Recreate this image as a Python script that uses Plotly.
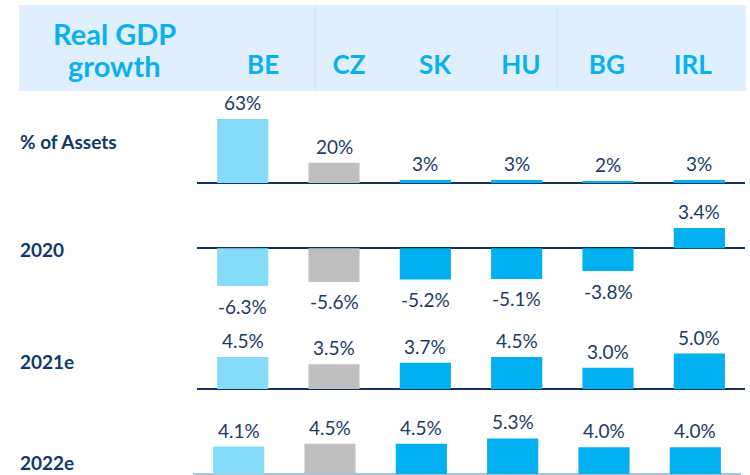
import plotly.graph_objects as go

# ---- data ----
countries = ["BE", "CZ", "SK", "HU", "BG", "IRL"]
assets_pct = [63, 20, 3, 3, 2, 3]
gdp_2020 = [-6.3, -5.6, -5.2, -5.1, -3.8, 3.4]
gdp_2021e = [4.5, 3.5, 3.7, 4.5, 3.0, 5.0]
gdp_2022e = [4.1, 4.5, 4.5, 5.3, 4.0, 4.0]
row_labels = ["% of Assets", "2020", "2021e", "2022e"]
header_title_lines = ["Real GDP", "growth"]

# ---- styles ----
W, H = 750, 475
FONT = "Lato"
C_BE = "#84dcf8"
C_CZ = "#bfbfbf"
C_OTHER = "#00b0f0"
bar_colors = [C_BE, C_CZ] + [C_OTHER] * 4
NAVY = "#1c3a66"
LABEL_NAVY = "#0f3a68"
HEAD_BLUE = "#0ab0ef"
HEAD_BG = "#dfeffd"


def py(px):
    return 1 - px / H


def px_x(px):
    return px / W


rows = [
    # values, fmt, y-domain px (top,bottom), y-range, x-axis, row-label y px
    (assets_pct, "{:.0f}%", (95, 186), [-2.95, 86.6], "x", 141),
    (gdp_2020, "{:.1f}%", (215, 295), [-7.78, 5.55], "x", 249),
    (gdp_2021e, "{:.1f}%", (330, 395), [-0.845, 8.31], "x", 361),
    (gdp_2022e, "{:.1f}%", (420, 475), [-0.149, 8.06], "x4", 462),
]

fig = go.Figure()
annotations = []
layout_axes = {}

for i, (vals, fmt, (top, bot), yr, xa, lab_y) in enumerate(rows):
    yname = "y" if i == 0 else f"y{i + 1}"
    fig.add_trace(go.Bar(
        x=countries, y=vals, xaxis=xa, yaxis=yname,
        marker=dict(color=bar_colors, line=dict(width=0)),
        width=0.56, hoverinfo="skip", showlegend=False,
    ))
    ykey = "yaxis" if i == 0 else f"yaxis{i + 1}"
    last = i == 3
    layout_axes[ykey] = dict(
        domain=[py(bot), py(top)], range=yr, anchor=xa,
        showgrid=False, showticklabels=False, ticks="",
        zeroline=True, zerolinewidth=1.5 if last else 2.2,
        zerolinecolor="#a9c4d9" if last else "#13335c",
        layer="above traces", fixedrange=True,
    )
    for c, v in zip(countries, vals):
        annotations.append(dict(
            x=c, y=v, xref=xa, yref=yname, text=fmt.format(v),
            showarrow=False, yanchor="middle",
            yshift=16.5 if v >= 0 else -20,
            font=dict(family=FONT, size=19, color=NAVY),
        ))
    annotations.append(dict(
        x=px_x(18), y=py(lab_y), xref="paper", yref="paper",
        xanchor="left", yanchor="middle", showarrow=False,
        text=f"<b>{row_labels[i]}</b>",
        font=dict(family=FONT, size=19, color=LABEL_NAVY),
    ))

# header country labels (own axis)
fig.add_trace(go.Scatter(
    x=countries, y=[0] * len(countries), xaxis="x5", yaxis="y5",
    mode="text", text=[f"<b>{c}</b>" for c in countries],
    textposition="middle center",
    textfont=dict(family=FONT, size=26, color=HEAD_BLUE),
    hoverinfo="skip", showlegend=False,
))
layout_axes["yaxis5"] = dict(domain=[py(93), py(41)], range=[-1, 1], anchor="x5",
                             visible=False, fixedrange=True)

for line, ly in zip(header_title_lines, [33, 66]):
    annotations.append(dict(
        x=px_x(114), y=py(ly), xref="paper", yref="paper",
        xanchor="center", yanchor="middle", showarrow=False,
        text=f"<b>{line}</b>",
        font=dict(family=FONT, size=29, color=HEAD_BLUE),
    ))

xcommon = dict(showgrid=False, showticklabels=False, ticks="", zeroline=False,
               showline=False, fixedrange=True, type="category", range=[-0.5, 5.5])

shapes = [
    dict(type="rect", xref="paper", yref="paper", x0=px_x(19), x1=px_x(746),
         y0=py(91), y1=py(5), fillcolor=HEAD_BG, line=dict(width=0), layer="below"),
    dict(type="line", xref="paper", yref="paper", x0=px_x(315.3), x1=px_x(315.3),
         y0=py(91), y1=py(5), line=dict(color="#cfe2f6", width=1), layer="below"),
    dict(type="line", xref="paper", yref="paper", x0=px_x(557), x1=px_x(557),
         y0=py(91), y1=py(5), line=dict(color="#cfe2f6", width=1), layer="below"),
]

fig.update_layout(
    width=W, height=H,
    margin=dict(l=0, r=0, t=0, b=0),
    paper_bgcolor="white", plot_bgcolor="rgba(0,0,0,0)",
    xaxis=dict(domain=[px_x(197), px_x(745)], anchor="y", **xcommon),
    xaxis4=dict(domain=[px_x(193), px_x(741)], anchor="y4", **xcommon),
    xaxis5=dict(domain=[px_x(220.2), px_x(735.7)], anchor="y5", **xcommon),
    annotations=annotations,
    shapes=shapes,
    bargap=0.4,
    font=dict(family=FONT),
    **layout_axes,
)

fig.write_html(
    "out.html",
    config={"displayModeBar": False},
    post_script="document.body.style.margin='0px';document.body.style.overflow='hidden';",
)
